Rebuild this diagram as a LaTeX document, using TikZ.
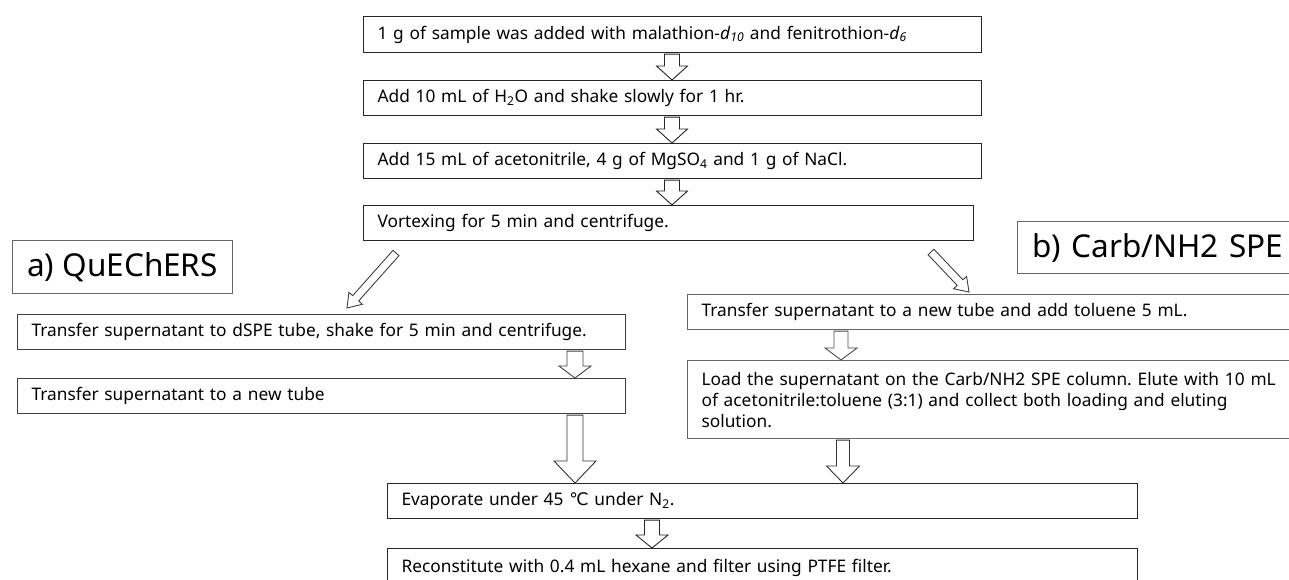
\documentclass[tikz,border=0pt]{standalone}
\usepackage{fontspec}
\setmainfont{Noto Sans}
\newfontfamily\dejavu{DejaVu Sans}
\usetikzlibrary{calc}
\frenchspacing
\tikzset{
  box/.style={draw=#1, line width=1.1pt, fill=white, anchor=north west,
    inner xsep=14pt, inner ysep=0pt, align=left,
    font=\fontsize{17.3}{21}\selectfont},
  box/.default={black!85},
  bigbox/.style={draw=black!60, line width=1.1pt, fill=white, anchor=north west,
    inner xsep=14pt, inner ysep=0pt,
    font=\fontsize{31.5}{36}\selectfont},
  blk/.style={draw=#1, line width=0.9pt, fill=white, line join=miter},
  blk/.default={black!85}
}
\newcommand\vblk[7]{%
  \draw[blk=#7] let \p1=(#1.south), \p2=(#2.north) in
    ({#3pt-#4pt},{\y1-1pt}) -- ({#3pt+#4pt},{\y1-1pt}) --
    ({#3pt+#4pt},{\y2+#6pt}) -- ({#3pt+#5pt},{\y2+#6pt}) -- (#3pt,\y2) --
    ({#3pt-#5pt},{\y2+#6pt}) -- ({#3pt-#4pt},{\y2+#6pt}) -- cycle;}
\newcommand\dblk[6]{%
  \coordinate (hb) at ($(#2)!#5pt!(#1)$);
  \draw[blk=#6] ($(#1)!#3pt!90:(#2)$) -- ($(hb)!#3pt!90:(#2)$) --
    ($(hb)!#4pt!90:(#2)$) -- (#2) -- ($(hb)!#4pt!-90:(#2)$) --
    ($(hb)!#3pt!-90:(#2)$) -- ($(#1)!#3pt!-90:(#2)$) -- cycle;}
\begin{document}
\begin{tikzpicture}[x=1pt,y=-1pt]
\fill[white] (0,0) rectangle (1289,579);
\useasboundingbox (0,0) rectangle (1289,579);

% central column
\node[box, text width=590pt, minimum height=36pt] (b1) at (363,16)
  {1 g of sample was added with malathion-\textit{d}\textsubscript{\textit{10}} and fenitrothion-\textit{d}\textsubscript{\textit{6}}};
\node[box, text width=590pt, minimum height=35pt] (b2) at (363,80)
  {Add 10 mL of H\textsubscript{2}O and shake slowly for 1 hr.};
\node[box, text width=590pt, minimum height=35pt] (b3) at (363,143)
  {Add 15 mL of acetonitrile, 4 g of MgSO\textsubscript{4} and 1 g of NaCl.};
\node[box, text width=582pt, minimum height=35pt] (b4) at (363,205)
  {Vortexing for 5 min and centrifuge.};

% labels
\node[bigbox, minimum width=220pt, minimum height=53pt, inner xsep=13pt] (qa) at (12,240) {a) QuEChERS};
\node[bigbox, align=left, text width=290pt, minimum height=52pt, inner xsep=15pt] (qb) at (1017,221) {b) Carb/NH2 SPE};

% left column
\node[box=black!75, text width=580pt, minimum height=35pt] (l1) at (17,314)
  {Transfer supernatant to dSPE tube, shake for 5 min and centrifuge.};
\node[box=black!75, text width=580pt, minimum height=35pt] (l2) at (17,378)
  {Transfer supernatant to a new tube};

% right column
\node[box=black!60, text width=600pt, minimum height=35pt] (r1) at (687,294)
  {Transfer supernatant to a new tube and add toluene 5 mL.};
\node[box=black!60, text width=600pt, minimum height=78pt] (r2) at (687,360)
  {Load the supernatant on the Carb/NH2 SPE column. Elute with 10 mL\\
   of acetonitrile:toluene (3:1) and collect both loading and eluting\\
   solution.};

% bottom
\node[box, text width=722pt, minimum height=35pt] (e1) at (387,483)
  {Evaporate under 45 {\dejavu ℃} under N\textsubscript{2}.};
\node[box, text width=722pt, minimum height=38pt] (e2) at (387,548)
  {Reconstitute with 0.4 mL hexane and filter using PTFE filter.};

% arrows
\vblk{b1}{b2}{672}{7.5}{15.5}{14}{black!85}
\vblk{b2}{b3}{672}{7.5}{15.5}{14}{black!85}
\vblk{b3}{b4}{672}{7.5}{15.5}{14}{black!85}
\coordinate (dlT) at (396,253);
\coordinate (dlP) at (347,308);
\dblk{dlT}{dlP}{4}{9}{13}{black!75}
\coordinate (drT) at (931,252);
\coordinate (drP) at (969,292);
\dblk{drT}{drP}{4}{9}{13}{black!75}
\vblk{l1}{l2}{575}{8}{16}{12}{black!75}
\vblk{r1}{r2}{841}{7}{16}{12}{black!70}
\vblk{l2}{e1}{575}{8}{21}{22}{black!80}
\vblk{r2}{e1}{843}{6.5}{16.5}{17}{black!80}
\vblk{e1}{e2}{652}{7.5}{16}{13}{black!85}
\end{tikzpicture}
\end{document}
